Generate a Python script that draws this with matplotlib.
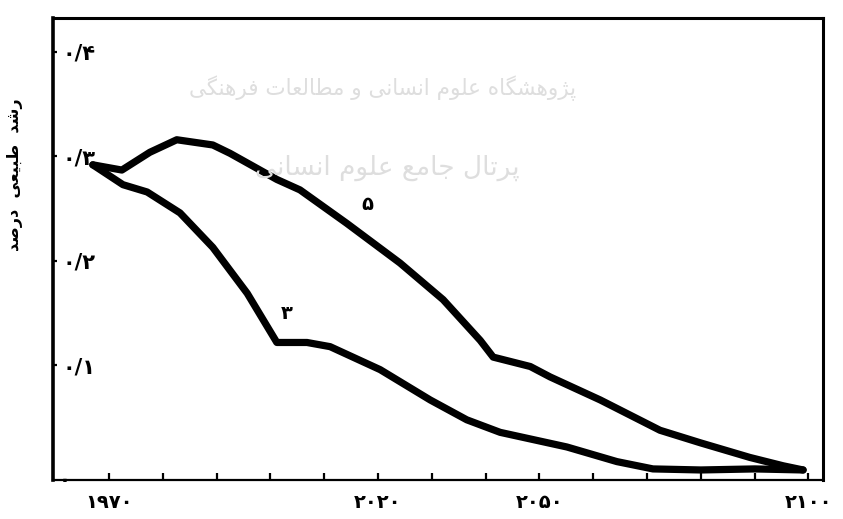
import matplotlib
matplotlib.use("Agg")
import matplotlib.pyplot as plt

# ---------------- data ----------------
years_5 = [1967.0, 1972.4, 1977.6, 1982.6, 1989.3, 1992.5, 2001.2, 2005.5, 2014.2,
           2024.1, 2032.1, 2039.0, 2041.4, 2048.3, 2052.0, 2061.3, 2072.4, 2079.9,
           2089.1, 2095.3, 2099.0]
growth_5 = [0.292, 0.287, 0.304, 0.316, 0.311, 0.303, 0.278, 0.268, 0.236,
            0.198, 0.163, 0.124, 0.108, 0.099, 0.089, 0.067, 0.038, 0.026,
            0.012, 0.004, 0.000]

years_3 = [1967.0, 1972.6, 1977.1, 1983.2, 1989.3, 1995.7, 2001.2, 2006.8, 2011.1,
           2020.4, 2029.7, 2036.5, 2042.7, 2055.1, 2064.4, 2071.1, 2080.0, 2090.0,
           2099.0]
growth_3 = [0.292, 0.273, 0.266, 0.246, 0.213, 0.169, 0.122, 0.122, 0.118,
            0.096, 0.067, 0.048, 0.036, 0.022, 0.008, 0.001, 0.000, 0.001,
            0.000]

series_labels = ["\u06f3", "\u06f5"]          # ۳ , ۵
label_pos_3 = (2003.1, 0.150)
label_pos_5 = (2018.0, 0.254)

x_ticks = list(range(1970, 2101, 10))
x_tick_labels = {1970: "\u06f1\u06f9\u06f7\u06f0", 2020: "\u06f2\u06f0\u06f2\u06f0",
                 2050: "\u06f2\u06f0\u06f5\u06f0", 2100: "\u06f2\u06f1\u06f0\u06f0"}
y_ticks = [0.1, 0.2, 0.3, 0.4]
y_tick_labels = ["\u06f0/\u06f1", "\u06f0/\u06f2", "\u06f0/\u06f3", "\u06f0/\u06f4"]
origin_label = "\u06f0"

# y-axis title "رشد طبیعی درصد" in visual (shaped, left-to-right) order
y_title = ("\uFEAA\uFEBB\uFEAD\uFEA9  "
           "\uFEF0\uFECC\uFEF4\uFE92\uFEC3  "
           "\uFEAA\uFEB7\uFEAD")

# faint watermark lines (shaped, visual order)
wm_line1 = ("\uFEF0\uFB95\uFEE8\uFEEB\uFEAE\uFED3 "
            "\uFE95\uFE8E\uFECC\uFEDF\uFE8E\uFEC4\uFEE3 "
            "\uFEED "
            "\uFEF0\uFEE7\uFE8E\uFEB4\uFEE7\uFE8D "
            "\uFEE1\uFEEE\uFEE0\uFECB "
            "\uFEE9\uFE8E\uFB95\uFEB8\uFEEB\uFEED\uFB8B\uFB58")
wm_line2 = ("\uFEF0\uFEE7\uFE8E\uFEB4\uFEE7\uFE8D "
            "\uFEE1\uFEEE\uFEE0\uFECB "
            "\uFECA\uFEE3\uFE8E\uFE9F "
            "\uFEDD\uFE8E\uFE97\uFEAE\uFB58")

# ---------------- figure ----------------
plt.rcParams['font.family'] = ['DejaVu Sans']
W, H = 843, 519
fig = plt.figure(figsize=(W / 100, H / 100), dpi=100)
fig.patch.set_facecolor("white")
ax = fig.add_axes([53 / W, 1 - 480 / H, (823 - 53) / W, (480 - 18) / H])

# watermark
fig.text(383 / W, 1 - 88 / H, wm_line1, ha="center", va="center",
         fontsize=15.5, color="#dedede", zorder=0)
fig.text(387 / W, 1 - 168 / H, wm_line2, ha="center", va="center",
         fontsize=19, color="#dedede", zorder=0)

lw = 5.2
ax.plot(years_5, growth_5, color="black", lw=lw, solid_capstyle="round",
        solid_joinstyle="round", zorder=3)
ax.plot(years_3, growth_3, color="black", lw=lw, solid_capstyle="round",
        solid_joinstyle="round", zorder=3)

ax.text(*label_pos_3, series_labels[0], fontsize=14, fontweight="bold",
        ha="center", va="center")
ax.text(*label_pos_5, series_labels[1], fontsize=14, fontweight="bold",
        ha="center", va="center")

ax.set_xlim(1959.6, 2102.7)
ax.set_ylim(-0.0096, 0.4325)

ax.set_xticks(x_ticks)
ax.set_xticklabels([x_tick_labels.get(t, "") for t in x_ticks],
                   fontsize=14, fontweight="bold")
ax.set_yticks(y_ticks)
ax.set_yticklabels(y_tick_labels, fontsize=15, fontweight="bold")
for lbl in ax.get_yticklabels():
    lbl.set_ha("left")

ax.tick_params(axis="x", direction="in", length=5, width=1.6, pad=9)
ax.tick_params(axis="y", direction="in", length=3, width=1.6, pad=-7)

for side, w in (("left", 2.6), ("top", 2.2), ("right", 2.2), ("bottom", 1.6)):
    ax.spines[side].set_linewidth(w)
    ax.spines[side].set_color("black")

ax.text(12 / (823 - 53), 0.0, origin_label, transform=ax.transAxes,
        fontsize=14, fontweight="bold", ha="center", va="center")

fig.text(15 / W, 1 - 175 / H, y_title, rotation=90, ha="center", va="center",
         fontsize=11.5, fontweight="bold")

fig.savefig("out.png", dpi=100, facecolor="white")
